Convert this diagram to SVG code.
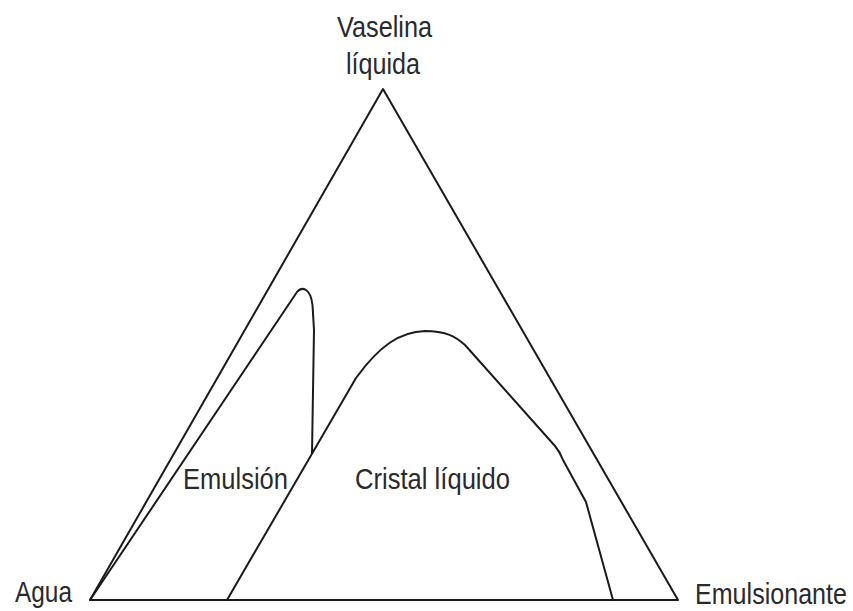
<svg xmlns="http://www.w3.org/2000/svg" width="853" height="611" viewBox="0 0 853 611">
<style>
.ln{fill:none;stroke:#1a1a1a;stroke-width:2;stroke-linejoin:round;stroke-linecap:round}
.tx{font-family:"Liberation Sans",Arial,sans-serif;font-size:29px;fill:#2a2a2a}
</style>
<rect width="853" height="611" fill="#ffffff"/>
<g id="triangle">
<path class="ln" d="M90,600 L383,89 L678,600 Z"/>
</g>
<g id="connectors">
<path id="emulsion-boundary" class="ln" d="M90,600 L297,292 Q301,287 306,290 Q311,293 312.5,305 L314,330 L312,453"/>
<path id="crystal-boundary" class="ln" d="M227,600 L356,378 C380,345 400,332 425,331 C445,331 455,336 465,345 L555,446 Q560,452 563,460 L586,502 L613,600"/>
</g>
<g id="label-vaselina">
<text class="tx" x="337" y="37" textLength="95" lengthAdjust="spacingAndGlyphs">Vaselina</text>
<text class="tx" x="346" y="74" textLength="74" lengthAdjust="spacingAndGlyphs">líquida</text>
</g>
<g id="label-agua">
<text class="tx" x="15" y="602" textLength="57" lengthAdjust="spacingAndGlyphs">Agua</text>
</g>
<g id="label-emulsionante">
<text class="tx" transform="translate(695,604) scale(0.865,1)" x="0" y="0">Emulsionante</text>
</g>
<g id="label-emulsion">
<text class="tx" x="183" y="489" textLength="105" lengthAdjust="spacingAndGlyphs">Emulsión</text>
</g>
<g id="label-cristal">
<text class="tx" x="355" y="489" textLength="155" lengthAdjust="spacingAndGlyphs">Cristal líquido</text>
</g>
</svg>
